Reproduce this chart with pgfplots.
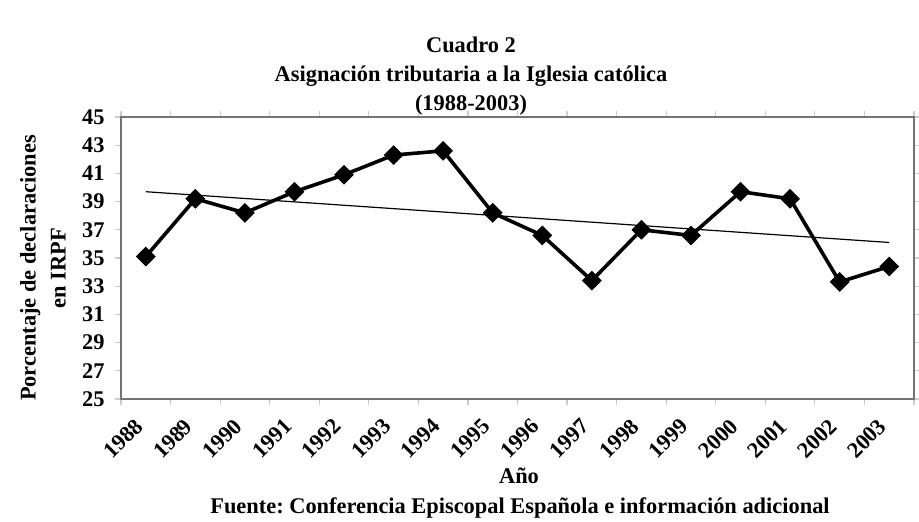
\documentclass[border=0pt]{standalone}
\usepackage{fontspec}
\setmainfont{Liberation Serif}
\usepackage{pgfplots}
\pgfplotsset{compat=1.18}
\usepackage{pgfplotstable}
\frenchspacing
\pgfplotstableread{
x year val
0 1988 35.1
1 1989 39.2
2 1990 38.2
3 1991 39.7
4 1992 40.9
5 1993 42.3
6 1994 42.6
7 1995 38.2
8 1996 36.6
9 1997 33.4
10 1998 37.0
11 1999 36.6
12 2000 39.7
13 2001 39.2
14 2002 33.3
15 2003 34.4
}\datatable
\pgfplotstableread{
x val
0 39.7
15 36.1
}\trendtable
\newcommand{\cf}{\fontsize{11.2}{15}\selectfont\bfseries}
\begin{document}
\begin{tikzpicture}
\path[use as bounding box] (0,0) rectangle (459.5pt,261pt);
\begin{axis}[
  at={(60.5pt,61.5pt)}, anchor=south west,
  scale only axis, width=396.5pt, height=141pt,
  xmin=-0.5, xmax=15.5, ymin=25, ymax=45,
  xtick={0,...,15},
  xticklabels={1988,1989,1990,1991,1992,1993,1994,1995,1996,1997,1998,1999,2000,2001,2002,2003},
  minor xtick={-0.5,0.5,...,15.5},
  ytick={25,27,...,45},
  tick align=outside,
  x tick style={draw=none},
  minor x tick style={draw=black!20, line width=0.6pt},
  minor tick length=3pt,
  y tick style={draw=black!20, line width=0.6pt},
  major tick length=3pt,
  axis line style={draw=black!55, line width=1.3pt},
  /pgf/number format/assume math mode=true,
  ticklabel style={font=\cf},
  yticklabel style={anchor=east, inner sep=0pt, xshift=-5pt},
  xticklabel style={inner sep=0pt, xshift=-6pt, yshift=-6pt, rotate=45, anchor=north east},
  yticklabel style={/pgf/number format/fixed},
  clip=false,
]
\addplot[black, line width=0.6pt] table[x=x, y=val] {\trendtable};
\addplot[black, line width=1.8pt, mark=square*, mark size=3.2pt,
  mark options={rotate=45, fill=black, line width=0.6pt}] table[x=x, y=val] {\datatable};
\end{axis}
\node[font=\cf, anchor=base] at (235.5pt,234.5pt) {Cuadro 2};
\node[font=\cf, anchor=base] at (235.5pt,220pt) {Asignación tributaria a la Iglesia católica};
\node[font=\cf, anchor=base] at (235.5pt,205.5pt) {(1988-2003)};
\node[font=\cf, anchor=base] at (259.5pt,19pt) {Año};
\node[font=\cf, anchor=base] at (260pt,4pt) {Fuente: Conferencia Episcopal Española e información adicional};
\node[font=\cf, rotate=90, align=center, anchor=center] at (21.5pt,127pt) {Porcentaje de declaraciones\\en IRPF};
\end{tikzpicture}
\end{document}
